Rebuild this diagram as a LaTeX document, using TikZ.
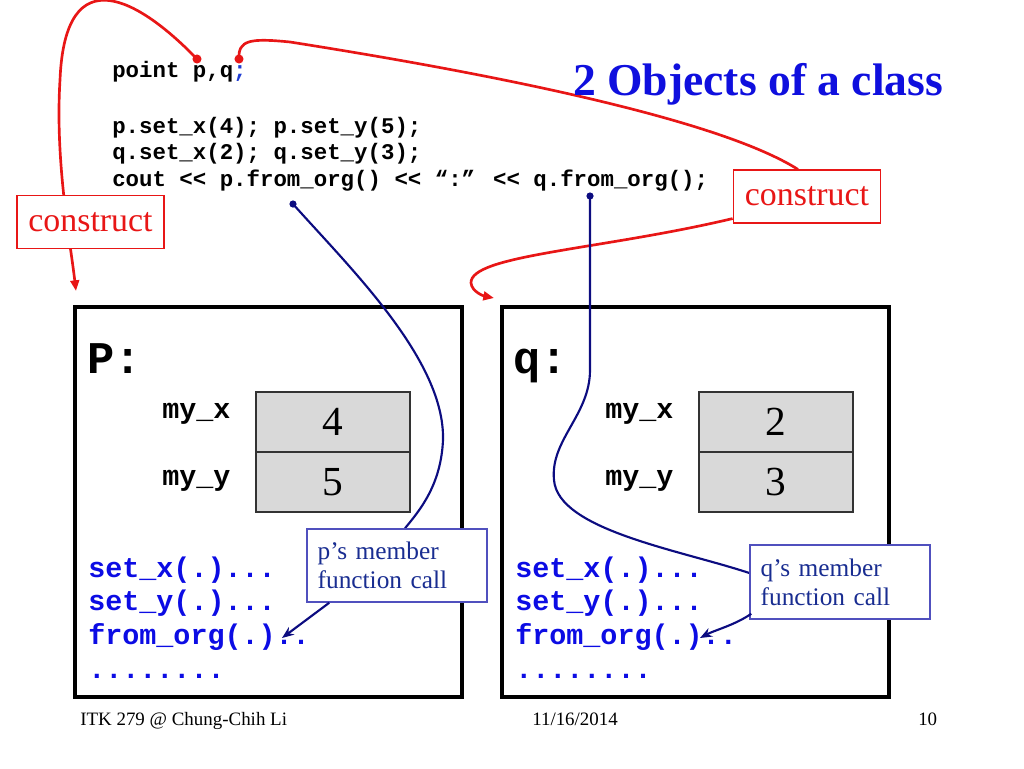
\documentclass[tikz,border=0pt]{standalone}
\usepackage{fontspec}
\setmainfont{Liberation Serif}
\newfontfamily\cour{Liberation Mono}
\usetikzlibrary{arrows.meta,calc}
\definecolor{myred}{RGB}{232,22,22}
\definecolor{navy}{RGB}{12,12,128}
\definecolor{tblue}{RGB}{15,15,222}
\definecolor{mblue}{RGB}{12,12,228}
\definecolor{codeblue}{RGB}{30,60,210}
\definecolor{calltext}{RGB}{25,45,145}
\definecolor{callframe}{RGB}{80,80,190}
\definecolor{cellgray}{RGB}{217,217,217}
\pgfdeclarelayer{bg}
\pgfdeclarelayer{curves}
\pgfsetlayers{bg,curves,main}
\begin{document}
\begin{tikzpicture}[x=0.75pt,y=-0.75pt,
  code/.style={anchor=base west, inner sep=0pt, font=\cour\bfseries\fontsize{16.8}{20}\selectfont},
  meth/.style={anchor=base west, inner sep=0pt, text=mblue, font=\cour\bfseries\fontsize{21.3}{26}\selectfont},
  field/.style={anchor=base west, inner sep=0pt, font=\cour\bfseries\fontsize{21.3}{26}\selectfont},
  objname/.style={anchor=base west, inner sep=0pt, font=\cour\bfseries\fontsize{34}{40}\selectfont},
  objbox/.style={draw, line width=3pt, minimum width=290.25pt, minimum height=292.5pt, inner sep=0pt},
  cell/.style={draw=black!80, fill=cellgray, line width=1.3pt, minimum width=115.5pt, minimum height=45pt, inner sep=0pt, font=\fontsize{31}{36}\selectfont},
  callbox/.style={draw=callframe, fill=white, line width=1.1pt, text=calltext, inner xsep=8pt, text width=119pt, align=left, font=\fontsize{19}{22}\selectfont},
  constr/.style={draw=myred, fill=white, line width=1.1pt, text=myred, minimum width=110.5pt, minimum height=39.5pt, inner sep=0pt, font=\fontsize{25.4}{28}\selectfont},
  redline/.style={draw=myred, line width=2pt},
  navyline/.style={draw=navy, line width=1.6pt},
  redtip/.style={-{Triangle[length=8pt,width=6.5pt]}},
  navytip/.style={-{Stealth[length=9pt,width=7pt]}},
  foot/.style={anchor=base west, inner sep=0pt, font=\fontsize{14.2}{17}\selectfont}]
\useasboundingbox (0,0) rectangle (1024,768);

% object boxes
\begin{pgfonlayer}{bg}
\node[objbox] (P) at (268.5,502) {};
\node[objbox] (Q) at (695.5,502) {};
\end{pgfonlayer}

% title
\node[anchor=base west, inner sep=0pt, text=tblue, font=\bfseries\fontsize{34.2}{40}\selectfont] (title) at (573,95) {2 Objects of a class};

% code
\node[code] (c1) at (112,77) {point p,q{\color{codeblue};}};
\node[code] (c2) at (112,133) {p.set\_x(4); p.set\_y(5);};
\node[code] (c3) at (112,159) {q.set\_x(2); q.set\_y(3);};
\node[code] (c4) at (112,186) {cout <{}< p.from\_org() <{}< “:” <{}< q.from\_org();};

% object p
\node[objname] (pn) at (87,373) {P:};
\node[field] (pfx) at (162,418) {my\_x};
\node[field] (pfy) at (162,485) {my\_y};
\node[cell] (px) at (333,422) {4};
\node[cell] (py) at (333,482) {5};
\node[meth] (pm1) at (88,577) {set\_x(.)...};
\node[meth] (pm2) at (88,610.5) {set\_y(.)...};
\node[meth] (pm3) at (88,644) {from\_org(.)..};
\node[meth] (pm4) at (88,678) {........};

% object q
\node[objname] (qn) at (513,373) {q:};
\node[field] (qfx) at (605,418) {my\_x};
\node[field] (qfy) at (605,485) {my\_y};
\node[cell] (qx) at (776,422) {2};
\node[cell] (qy) at (776,482) {3};
\node[meth] (qm1) at (515,577) {set\_x(.)...};
\node[meth] (qm2) at (515,610.5) {set\_y(.)...};
\node[meth] (qm3) at (515,644) {from\_org(.)..};
\node[meth] (qm4) at (515,678) {........};

% callouts
\node[callbox, minimum height=54.75pt] (pcall) at (397,565.5) {p’s member\\function call};
\node[callbox, minimum height=55.5pt] (qcall) at (840,582) {q’s member\\function call};
\node[constr] (cL) at (90.5,222) {construct};
\node[constr] (cR) at (807,196.5) {construct};

% anchor points
\coordinate (pdot) at (197,59);
\coordinate (qdot) at (239,59);
\coordinate (pfdot) at (293,204);
\coordinate (qfdot) at (590,196);
\coordinate (ptip) at (76,291);
\coordinate (qtip) at (494,298);
\coordinate (pcallee) at (282,638);
\coordinate (qcallee) at (700,638);

% connectors
\begin{pgfonlayer}{curves}
\draw[redline,redtip] (pdot) .. controls (140,0) and (65,-45) .. (60,80)
      .. controls (55,160) and (70,240) .. (ptip);
\draw[redline] (qdot) .. controls (238,40) and (250,38) .. (290,42)
      .. controls (500,75) and (720,120) .. ($(cR.north)+(-9,0)$);
\draw[redline,redtip] ($(cR.south west)+(0,-5)$) .. controls (600,250) and (470,255) .. (471,283)
      .. controls (472,292) and (484,296) .. (qtip);
\draw[navyline] (pfdot) .. controls (350,268) and (445,360) .. (443,440)
      .. controls (441,485) and (420,510) .. ($(pcall.north)+(8,0)$);
\draw[navyline] (qfdot) -- (590,370) .. controls (590,415) and (550,440) .. (554,480)
      .. controls (558,530) and (680,550) .. ($(qcall.west)+(0,-9)$);
\end{pgfonlayer}
\draw[navyline,navytip] ($(pcall.south west)+(23,0)$) -- (pcallee);
\draw[navyline,navytip] ($(qcall.south west)+(2,-6)$) .. controls (735,625) and (715,630) .. (qcallee);

% dots
\fill[myred] (pdot) circle (3.4pt);
\fill[myred] (qdot) circle (3.4pt);
\fill[navy] (pfdot) circle (2.7pt);
\fill[navy] (qfdot) circle (2.7pt);

% footer
\node[foot] (f1) at (80,725) {ITK 279 @ Chung-Chih Li};
\node[foot] (f2) at (532,725) {11/16/2014};
\node[foot] (f3) at (918,725) {10};
\end{tikzpicture}
\end{document}
